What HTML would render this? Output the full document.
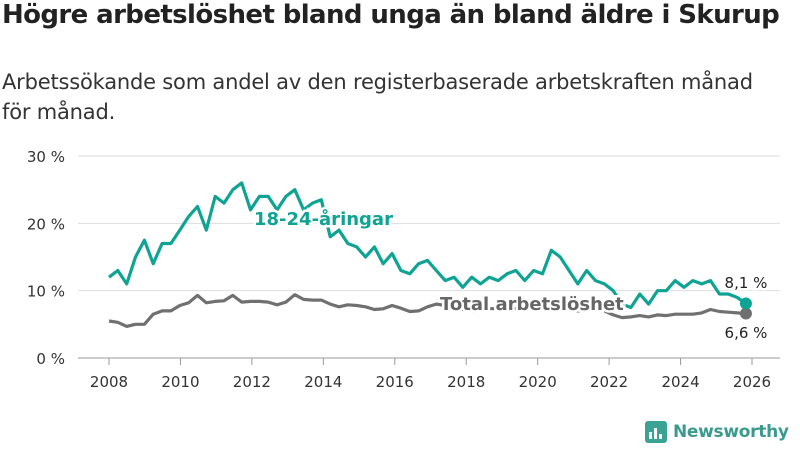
<!DOCTYPE html>
<html><head><meta charset="utf-8">
<style>
body{margin:0;width:800px;height:450px;background:#fff;font-family:"Liberation Sans","DejaVu Sans",sans-serif;overflow:hidden;position:relative}
h1{position:absolute;left:2px;top:0;margin:0;font-size:26px;font-weight:bold;color:#222;font-family:"DejaVu Sans",sans-serif;letter-spacing:-0.6px;white-space:nowrap}
.sub{position:absolute;left:2px;top:67px;font-size:21px;color:#333;line-height:30px;font-family:"DejaVu Sans",sans-serif;width:770px;letter-spacing:-0.2px}
svg{position:absolute;left:0;top:0}
</style></head><body>
<h1>Högre arbetslöshet bland unga än bland äldre i Skurup</h1>
<div class="sub">Arbetssökande som andel av den registerbaserade arbetskraften månad för månad.</div>
<svg id="c" width="800" height="450"></svg>
<script>
const years=[2008,2010,2012,2014,2016,2018,2020,2022,2024,2026];
const yTicks=[0,10,20,30];
const yTickLabels=["0 %","10 %","20 %","30 %"];
const youth=[12,13,11,15,17.5,14,17,17,19,21,22.5,19,24,23,25,26,22,24,24,22,24,25,22,23,23.5,18,19,17,16.5,15,16.5,14,15.5,13,12.5,14,14.5,13,11.5,12,10.5,12,11,12,11.5,12.5,13,11.5,13,12.5,16,15,13,11,13,11.5,11,10,8,7.5,9.5,8,10,10,11.5,10.5,11.5,11,11.5,9.5,9.5,9,8.1];
const total=[5.5,5.3,4.7,5,5,6.5,7,7,7.8,8.2,9.3,8.2,8.4,8.5,9.3,8.3,8.4,8.4,8.3,7.9,8.3,9.4,8.7,8.6,8.6,8,7.6,7.9,7.8,7.6,7.2,7.3,7.8,7.4,6.9,7,7.6,8,7.8,7.4,7.2,7,7.1,7.3,7.4,7.2,7.4,7.3,7.5,7.6,8,7.8,7.3,7,7.2,7,7,6.4,6,6.1,6.3,6.1,6.4,6.3,6.5,6.5,6.5,6.7,7.2,6.9,6.8,6.7,6.6];
const startYear=2008, endYear=2025.83;
const X=y=>109+(y-2008)*(752-109)/18;
const Y=v=>358-v*(358-156)/30;
const s=document.getElementById('c');const NS='http://www.w3.org/2000/svg';
function mk(t,a,p){const e=document.createElementNS(NS,t);for(const k in a)e.setAttribute(k,a[k]);(p||s).appendChild(e);return e;}
yTicks.forEach((v,i)=>{
 const g=mk('line',{x1:78,x2:780,y1:Y(v),y2:Y(v),stroke:v==0?'#999':'#ddd','stroke-width':1});
 
 
 const t=mk('text',{x:65,y:Y(v)+6,'text-anchor':'end','font-size':15,fill:'#333','font-family':'DejaVu Sans'});
 t.textContent=yTickLabels[i];
 
 
});
years.forEach(yr=>{
 const l=mk('line',{x1:X(yr),x2:X(yr),y1:358,y2:365,stroke:'#999'});
 
 
 const t=mk('text',{x:X(yr),y:387,'text-anchor':'middle','font-size':15,fill:'#333','font-family':'DejaVu Sans'});
 t.textContent=yr;
 
 
});
function line(data,col,name){
 const n=data.length-1, st=(endYear-startYear)/n;
 const d=data.map((v,i)=>(i?'L':'M')+X(startYear+i*st).toFixed(1)+','+Y(v).toFixed(1)).join('');
 const p=mk('path',{d:d,fill:'none',stroke:col,'stroke-width':3.2,'stroke-linejoin':'round'});
 
 
 const c=mk('circle',{cx:X(endYear),cy:Y(data[n]),r:6,fill:col});
 
 
}
line(total,'#707070','total-line');
line(youth,'#0fa394','youth-line');
function lab(txt,x,y,col,size,w,name,anchor){
 const t=mk('text',{x:x,y:y,'font-size':size,'font-weight':w,fill:col,'font-family':'DejaVu Sans',stroke:'#fff','stroke-width':5,'paint-order':'stroke','text-anchor':anchor||'start'});
 t.textContent=txt;
 
 
}
lab('18-24-åringar',254,225,'#0fa394',18,'bold','youth-series-label');
lab('Total arbetslöshet',440,310,'#666',18,'bold','total-series-label');
lab('8,1 %',746,288,'#222',15,'normal','youth-end-value','middle');
lab('6,6 %',746,338,'#222',15,'normal','total-end-value','middle');
</script>
<div style="position:absolute;left:645px;top:421px;display:flex;align-items:center">
 <div style="width:22px;height:22px;background:#3aa394;border-radius:3px;position:relative">
  <div style="position:absolute;left:4px;bottom:4px;width:3px;height:7px;background:#fff"></div>
  <div style="position:absolute;left:9px;bottom:4px;width:3px;height:11px;background:#fff"></div>
  <div style="position:absolute;left:14px;bottom:4px;width:3px;height:5px;background:#fff"></div>
 </div>
 <span style="margin-left:6px;font-size:17px;font-weight:bold;color:#3a9a8e;font-family:'DejaVu Sans',sans-serif;letter-spacing:-0.3px">Newsworthy</span>
</div>
</body></html>
